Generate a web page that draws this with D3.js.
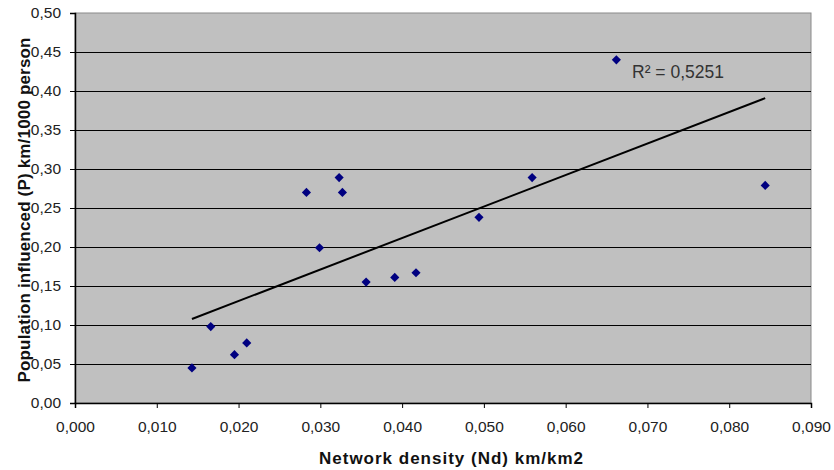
<!DOCTYPE html>
<html>
<head>
<meta charset="utf-8">
<script src="https://cdn.jsdelivr.net/npm/d3@7"></script>
<style>
  body { margin: 0; background: #fff; }
  #chart { width: 834px; height: 470px; }
</style>
</head>
<body>
<div id="chart"></div>
<script>
// Network density (Nd) km/km2 vs population influenced (P) km/1000 person
const densityNd = [0.0143, 0.0166, 0.0195, 0.0210, 0.0299, 0.0356, 0.0391, 0.0417,
                   0.0283, 0.0323, 0.0327, 0.0494, 0.0559, 0.0662, 0.0844];
const populationP = [0.045, 0.098, 0.062, 0.077, 0.199, 0.155, 0.161, 0.167,
                     0.270, 0.289, 0.270, 0.238, 0.289, 0.440, 0.279];
const xTicks = [0, 0.01, 0.02, 0.03, 0.04, 0.05, 0.06, 0.07, 0.08, 0.09];
const yTicks = [0, 0.05, 0.10, 0.15, 0.20, 0.25, 0.30, 0.35, 0.40, 0.45, 0.50];
const r2Label = 'R² = 0,5251';

const W = 834, H = 470;
const margin = { top: 13, right: 23, bottom: 67, left: 75 };
const iw = W - margin.left - margin.right;
const ih = H - margin.top - margin.bottom;

const svg = d3.select('#chart').append('svg')
  .attr('width', W).attr('height', H)
  .style('font-family', 'Arial, "Liberation Sans", sans-serif');

const g = svg.append('g').attr('transform', `translate(${margin.left},${margin.top})`);

const x = d3.scaleLinear().domain([0, 0.09]).range([0, iw]);
const y = d3.scaleLinear().domain([0, 0.5]).range([ih, 0]);

// plot area
g.append('rect')
  .attr('width', iw).attr('height', ih)
  .attr('fill', '#c0c0c0')
  .attr('stroke', '#8a8a8a').attr('stroke-width', 1);

// horizontal gridlines
g.append('g')
  .selectAll('line')
  .data(yTicks.filter(v => v > 0 && v < 0.5))
  .join('line')
  .attr('x1', 0).attr('x2', iw)
  .attr('y1', d => Math.round(y(d)) + 0.5).attr('y2', d => Math.round(y(d)) + 0.5)
  .attr('stroke', '#000').attr('stroke-width', 1);

const comma = d3.formatLocale({ decimal: ',', thousands: '.', grouping: [3], currency: ['', ''] });

// axes
const xAxis = g.append('g')
  .attr('transform', `translate(0,${ih})`)
  .call(d3.axisBottom(x).tickValues(xTicks).tickFormat(comma.format('.3f')).tickSize(5).tickPadding(13));
const yAxis = g.append('g')
  .call(d3.axisLeft(y).tickValues(yTicks).tickFormat(comma.format('.2f')).tickSize(5).tickPadding(9));

[xAxis, yAxis].forEach(a => {
  a.select('.domain').attr('stroke', '#000').attr('stroke-width', 1.5);
  a.selectAll('.tick line').attr('stroke', '#000');
  a.selectAll('.tick text')
    .attr('fill', '#222')
    .attr('font-size', 15.5)
    .attr('font-family', 'Arial, "Liberation Sans", sans-serif');
});

// trendline from least squares
const n = densityNd.length;
const mx = d3.mean(densityNd), my = d3.mean(populationP);
let sxy = 0, sxx = 0;
for (let i = 0; i < n; i++) {
  sxy += (densityNd[i] - mx) * (populationP[i] - my);
  sxx += (densityNd[i] - mx) ** 2;
}
const slope = sxy / sxx;
const icpt = my - slope * mx;
const [xmin, xmax] = d3.extent(densityNd);

g.append('line')
  .attr('x1', x(xmin)).attr('y1', y(icpt + slope * xmin))
  .attr('x2', x(xmax)).attr('y2', y(icpt + slope * xmax))
  .attr('stroke', '#000').attr('stroke-width', 2);

// diamond markers
g.append('g')
  .selectAll('path')
  .data(densityNd.map((d, i) => [d, populationP[i]]))
  .join('path')
  .attr('d', d3.symbol(d3.symbolSquare, 42))
  .attr('transform', d => `translate(${x(d[0])},${y(d[1])}) rotate(45)`)
  .attr('fill', '#000080');

// R² label
g.append('text')
  .attr('x', 632 - margin.left).attr('y', 78 - margin.top)
  .attr('font-size', 17.5)
  .attr('fill', '#333')
  .text(r2Label);

// axis titles
svg.append('text')
  .attr('x', 451).attr('y', 464)
  .attr('text-anchor', 'middle')
  .attr('font-weight', 'bold')
  .attr('font-size', 17)
  .attr('textLength', 264)
  .attr('fill', '#111')
  .text('Network density (Nd) km/km2');

svg.append('text')
  .attr('transform', 'translate(30,210) rotate(-90)')
  .attr('text-anchor', 'middle')
  .attr('font-weight', 'bold')
  .attr('font-size', 17)
  .attr('textLength', 345)
  .attr('fill', '#111')
  .text('Population influenced (P) km/1000 person');
</script>
</body>
</html>
